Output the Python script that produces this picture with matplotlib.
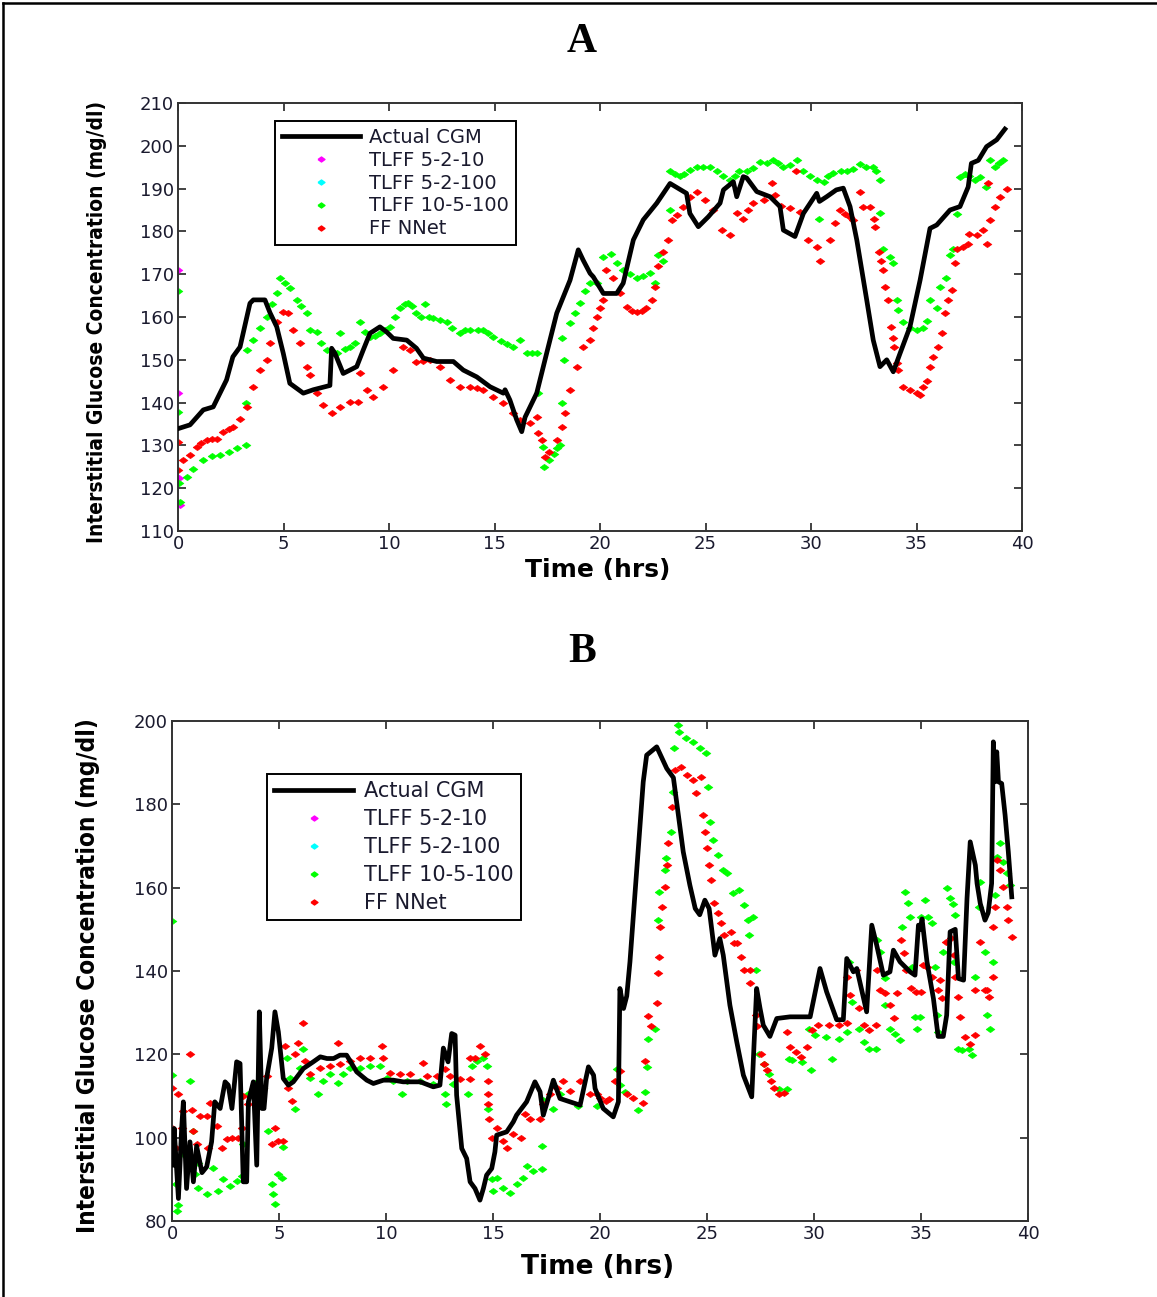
import matplotlib
matplotlib.use("Agg")
import matplotlib.pyplot as plt
from matplotlib.lines import Line2D
from matplotlib import font_manager

# ---------------- Panel A data ----------------
a_cgm_t = [0.06, 0.57, 1.2, 1.67, 1.83, 2.3, 2.6, 2.94, 3.41, 3.57, 4.12, 4.36, 4.68, 4.99, 5.3, 5.94,
           6.41, 7.2, 7.28, 7.44, 7.83, 8.47, 8.78, 9.1, 9.57, 9.89, 10.2, 10.84, 11.3, 11.63, 12.26,
           13.05, 13.52, 14.16, 14.79, 15.42, 15.5, 15.73, 16.05, 16.29, 16.45, 17.0, 17.47, 17.95,
           18.58, 18.97, 19.2, 19.53, 19.68, 20.16, 20.79, 21.1, 21.58, 22.05, 22.69, 23.32, 24.1,
           24.26, 24.66, 25.13, 25.69, 25.85, 26.32, 26.48, 26.79, 26.95, 27.43, 28.06, 28.53, 28.69,
           29.24, 29.64, 30.27, 30.4, 30.74, 31.2, 31.53, 31.85, 32.17, 32.64, 32.95, 33.27, 33.59,
           33.9, 34.22, 34.69, 35.17, 35.64, 35.96, 36.59, 37.06, 37.45, 37.6, 37.93, 38.32, 38.8, 39.19]
a_cgm_v = [134.0, 134.8, 138.3, 139.0, 140.6, 145.3, 150.7, 153.0, 163.2, 164.0, 164.0, 161.0, 157.7,
           151.5, 144.5, 142.2, 143.0, 144.0, 152.7, 151.5, 146.8, 148.4, 152.3, 156.2, 157.7, 156.5,
           155.0, 154.6, 152.7, 150.4, 149.6, 149.6, 147.6, 146.0, 143.7, 142.2, 143.0, 140.6, 136.0,
           133.2, 136.6, 142.2, 151.5, 160.9, 168.6, 175.7, 173.3, 170.2, 169.4, 165.5, 165.5, 167.9,
           178.0, 182.7, 186.6, 191.2, 188.9, 184.2, 181.1, 183.4, 186.6, 189.7, 191.6, 188.1, 192.8,
           192.5, 189.3, 188.1, 185.8, 180.3, 178.8, 184.2, 188.9, 187.0, 188.1, 189.7, 190.1, 185.8,
           178.0, 164.0, 154.6, 148.4, 150.0, 147.2, 151.5, 157.7, 168.6, 180.7, 181.5, 185.0, 185.8,
           190.4, 195.9, 196.6, 199.8, 201.4, 203.9]

a_tl10_t = [0.0, 0.0, 0.05, 0.1]
a_tl10_v = [171.0, 142.2, 122.3, 116.0]

a_tl100_t = []
a_tl100_v = []

a_tl105_t = [0.0, 0.0, 0.05, 0.1, 0.41, 0.7, 1.2, 1.6, 1.99, 2.4, 2.78, 3.2, 3.2, 3.25, 3.57, 3.9, 4.2,
             4.45, 4.68, 4.83, 5.05, 5.31, 5.62, 5.85, 6.1, 6.26, 6.57, 6.8, 7.05, 7.3, 7.52, 7.67, 7.9,
             8.15, 8.4, 8.63, 8.85, 9.1, 9.35, 9.57, 9.8, 10.05, 10.3, 10.52, 10.75, 10.91, 11.1, 11.3,
             11.5, 11.7, 11.9, 12.1, 12.4, 12.73, 13.0, 13.36, 13.6, 13.84, 14.2, 14.47, 14.7, 14.94,
             15.3, 15.58, 15.9, 16.2, 16.52, 16.8, 17.0, 17.05, 17.3, 17.35, 17.6, 17.8, 17.95, 18.1,
             18.2, 18.2, 18.3, 18.6, 18.8, 19.05, 19.3, 19.53, 19.84, 20.16, 20.5, 20.8, 21.1, 21.4,
             21.74, 22.05, 22.37, 22.6, 22.76, 23.0, 23.3, 23.32, 23.55, 23.8, 24.0, 24.26, 24.6, 24.9,
             25.2, 25.53, 25.85, 26.16, 26.4, 26.6, 26.95, 27.27, 27.58, 27.9, 28.21, 28.45, 28.69,
             29.0, 29.32, 29.64, 29.95, 30.27, 30.4, 30.6, 30.8, 31.06, 31.4, 31.69, 32.0, 32.32, 32.6,
             32.95, 33.1, 33.27, 33.27, 33.4, 33.74, 33.9, 34.06, 34.1, 34.38, 34.7, 35.0, 35.32, 35.5,
             35.64, 35.96, 36.11, 36.4, 36.59, 36.75, 36.9, 37.06, 37.3, 37.5, 37.75, 38.0, 38.3,
             38.48, 38.7, 38.9, 39.1]
a_tl105_v = [166.1, 137.9, 121.1, 116.8, 122.7, 124.5, 126.6, 127.5, 127.8, 128.5, 129.3, 130.1, 140.0,
             152.3, 154.6, 157.5, 160.0, 163.0, 165.5, 169.0, 168.0, 166.7, 164.0, 162.5, 160.9, 157.0,
             156.5, 154.0, 152.3, 152.0, 151.5, 156.2, 152.5, 153.0, 154.0, 158.9, 156.5, 155.4, 155.5,
             156.2, 157.0, 157.7, 160.0, 162.0, 163.0, 163.3, 162.5, 160.9, 160.0, 163.0, 160.0, 159.7,
             159.3, 158.9, 157.5, 156.2, 157.0, 157.0, 157.0, 157.0, 156.3, 155.4, 154.5, 153.8, 153.0,
             154.6, 151.5, 151.7, 151.5, 142.2, 129.7, 125.0, 126.6, 128.0, 129.4, 130.0, 140.0, 155.0,
             150.0, 158.5, 161.0, 163.2, 166.0, 167.9, 168.0, 174.0, 174.8, 172.5, 171.0, 170.0, 169.0,
             169.5, 170.2, 168.0, 174.5, 173.0, 185.0, 194.0, 193.5, 193.0, 193.5, 194.3, 195.0, 195.0,
             195.0, 194.2, 193.0, 192.0, 193.0, 194.0, 194.0, 194.7, 196.3, 196.0, 196.7, 196.0, 195.0,
             195.5, 196.7, 194.2, 193.0, 192.0, 183.0, 191.6, 193.0, 193.6, 194.0, 194.2, 194.5, 195.8,
             195.0, 195.0, 194.0, 192.0, 184.2, 176.0, 174.0, 172.5, 164.0, 161.6, 158.9, 157.5, 157.0,
             157.5, 159.0, 164.0, 162.0, 167.0, 169.0, 174.5, 176.0, 184.0, 192.6, 193.5, 193.0, 192.0,
             192.6, 190.4, 196.7, 195.0, 196.0, 196.7]

a_ff_t = [0.0, 0.0, 0.25, 0.57, 0.88, 1.1, 1.36, 1.6, 1.83, 2.15, 2.4, 2.62, 2.94, 3.25, 3.57, 3.89, 4.2,
          4.36, 4.68, 4.99, 5.2, 5.47, 5.78, 6.1, 6.26, 6.57, 6.89, 7.28, 7.68, 8.15, 8.55, 8.63, 8.94,
          9.26, 9.73, 10.2, 10.68, 11.0, 11.3, 11.6, 11.94, 12.42, 12.89, 13.36, 13.84, 14.15, 14.47,
          14.94, 15.42, 15.89, 16.2, 16.68, 17.0, 17.05, 17.23, 17.4, 17.6, 17.95, 18.2, 18.34, 18.58,
          18.9, 19.2, 19.53, 19.68, 19.84, 20.0, 20.16, 20.3, 20.6, 20.95, 21.26, 21.5, 21.74, 22.0,
          22.2, 22.45, 22.6, 22.76, 23.0, 23.24, 23.4, 23.63, 23.95, 24.26, 24.6, 24.98, 25.37, 25.77,
          26.16, 26.48, 26.79, 27.0, 27.27, 27.75, 28.13, 28.3, 28.6, 29.0, 29.3, 29.5, 29.87, 30.27,
          30.43, 30.9, 31.15, 31.37, 31.6, 31.85, 32.0, 32.32, 32.48, 32.8, 33.0, 33.05, 33.2, 33.3,
          33.43, 33.5, 33.67, 33.8, 33.9, 33.95, 34.06, 34.1, 34.38, 34.69, 35.0, 35.17, 35.32, 35.48,
          35.64, 35.8, 36.0, 36.2, 36.35, 36.5, 36.67, 36.82, 36.9, 37.2, 37.45, 37.5, 37.85, 38.16,
          38.32, 38.4, 38.48, 38.7, 38.96, 39.27]
a_ff_v = [130.9, 124.3, 126.6, 127.8, 129.7, 130.5, 131.3, 131.4, 131.5, 133.2, 133.8, 134.4, 136.1,
          139.0, 143.7, 147.6, 150.0, 153.9, 158.9, 161.2, 161.0, 157.0, 153.9, 148.4, 146.4, 142.2,
          139.4, 137.5, 139.0, 140.2, 140.2, 146.8, 142.9, 141.3, 143.7, 147.6, 153.0, 152.3, 149.6,
          149.8, 150.0, 148.4, 145.3, 143.7, 143.7, 143.3, 143.0, 141.4, 139.8, 137.5, 136.0, 135.3,
          136.6, 133.0, 131.3, 127.4, 128.5, 131.3, 134.4, 137.5, 142.9, 148.4, 153.0, 154.6, 157.5,
          160.0, 162.0, 164.0, 171.0, 169.0, 165.5, 162.4, 161.5, 161.2, 161.5, 162.0, 164.0, 167.0,
          171.8, 175.3, 178.0, 182.7, 183.8, 185.8, 188.1, 189.3, 187.3, 185.0, 180.3, 179.2, 184.2,
          183.0, 185.0, 186.6, 187.3, 191.2, 188.5, 186.0, 185.4, 194.2, 184.6, 178.0, 176.4, 173.0,
          178.0, 182.0, 185.0, 184.0, 183.4, 182.7, 189.3, 185.8, 185.8, 183.0, 181.1, 175.3, 173.0,
          171.0, 167.0, 164.0, 157.7, 155.0, 153.0, 149.2, 147.6, 143.7, 143.0, 142.3, 141.8, 143.7,
          145.0, 148.4, 150.6, 153.0, 156.2, 160.9, 164.0, 166.3, 172.5, 176.0, 176.3, 177.0, 179.5,
          179.2, 180.3, 177.0, 191.2, 182.7, 185.8, 188.1, 190.0]

# ---------------- Panel B data ----------------
b_cgm_t = [0.06, 0.1, 0.3, 0.45, 0.53, 0.68, 0.84, 1.0, 1.15, 1.4, 1.62, 1.85, 2.0, 2.25, 2.48, 2.63,
           2.8, 3.02, 3.18, 3.33, 3.49, 3.57, 3.8, 3.96, 4.08, 4.2, 4.3, 4.42, 4.66, 4.81, 4.97, 5.2,
           5.44, 5.67, 6.14, 6.6, 6.93, 7.24, 7.55, 7.85, 8.16, 8.63, 9.1, 9.41, 9.88, 10.34, 10.8,
           11.6, 12.21, 12.52, 12.68, 12.9, 13.07, 13.23, 13.3, 13.54, 13.77, 13.93, 14.16, 14.39,
           14.55, 14.7, 14.94, 15.09, 15.17, 15.64, 15.95, 16.1, 16.57, 16.96, 17.2, 17.35, 17.58,
           17.82, 18.13, 18.6, 19.07, 19.46, 19.7, 19.77, 20.15, 20.62, 20.86, 20.93, 21.1, 21.25,
           21.4, 21.56, 21.79, 22.02, 22.18, 22.65, 23.12, 23.43, 23.66, 23.89, 24.2, 24.45, 24.66,
           24.9, 25.1, 25.37, 25.6, 25.76, 26.07, 26.39, 26.7, 27.09, 27.2, 27.32, 27.48, 27.63, 27.94,
           28.26, 28.88, 29.82, 30.28, 30.59, 31.06, 31.37, 31.53, 31.84, 32.0, 32.46, 32.7, 32.93,
           33.24, 33.55, 33.71, 34.02, 34.49, 34.72, 34.88, 34.96, 35.05, 35.28, 35.58, 35.8, 36.04,
           36.2, 36.36, 36.6, 36.75, 36.99, 37.15, 37.3, 37.54, 37.62, 37.77, 37.99, 38.14, 38.3,
           38.38, 38.46, 38.54, 38.62, 38.77, 38.93, 39.08, 39.24]
b_cgm_v = [93.4, 102.2, 85.4, 102.2, 108.6, 87.8, 99.0, 89.4, 98.0, 91.6, 93.0, 99.0, 108.6, 107.0,
           113.4, 112.6, 107.0, 118.2, 117.8, 89.4, 89.4, 108.6, 113.4, 93.4, 130.2, 107.0, 107.0,
           114.2, 121.5, 130.2, 125.4, 114.2, 112.6, 113.4, 116.6, 118.2, 119.4, 119.0, 119.0, 119.8,
           119.8, 115.8, 113.8, 113.0, 113.8, 113.8, 113.4, 113.4, 112.2, 112.6, 121.5, 118.2, 125.0,
           124.6, 110.2, 97.4, 95.0, 89.4, 87.8, 85.0, 87.8, 91.0, 92.6, 96.6, 100.6, 101.4, 103.8,
           105.4, 108.6, 113.4, 111.0, 105.4, 109.4, 113.8, 109.4, 108.6, 107.8, 117.0, 115.0, 111.8,
           107.0, 105.0, 108.6, 135.8, 131.0, 134.0, 142.2, 153.4, 169.4, 185.4, 191.8, 193.8, 188.6,
           186.4, 177.4, 168.6, 160.6, 155.0, 153.5, 157.0, 155.0, 143.8, 147.8, 143.8, 131.8, 123.0,
           115.0, 109.8, 122.6, 135.8, 131.0, 127.0, 124.3, 128.6, 129.0, 129.0, 140.6, 135.0, 128.3,
           128.3, 143.0, 139.8, 140.6, 130.2, 151.0, 146.2, 139.0, 139.8, 145.0, 142.2, 139.8, 139.0,
           151.0, 150.0, 152.5, 142.2, 133.4, 124.3, 124.3, 129.4, 149.4, 150.0, 138.2, 137.8, 157.4,
           171.0, 165.4, 161.0, 156.2, 152.2, 154.0, 161.0, 195.0, 185.4, 192.6, 185.4, 185.0, 177.4,
           168.6, 157.8]

b_tl105_t = [0.0, 0.02, 0.2, 0.28, 0.25, 0.53, 0.84, 1.0, 1.07, 1.23, 1.23, 1.62, 1.93, 2.17, 2.4, 2.7,
             3.02, 3.25, 3.33, 3.57, 3.8, 4.03, 4.27, 4.5, 4.66, 4.73, 4.81, 4.97, 5.12, 5.2, 5.36, 5.52,
             5.75, 5.98, 6.14, 6.45, 6.84, 7.07, 7.38, 7.77, 8.0, 8.32, 8.78, 9.25, 9.72, 10.03, 10.34,
             10.73, 10.97, 11.59, 12.21, 12.76, 12.8, 13.15, 13.85, 14.0, 14.24, 14.55, 14.7, 14.78,
             14.94, 15.0, 15.17, 15.48, 15.8, 16.1, 16.41, 16.57, 16.88, 17.27, 17.27, 17.35, 17.82,
             18.13, 18.97, 19.84, 20.78, 20.93, 21.17, 21.79, 22.1, 22.2, 22.26, 22.57, 22.73, 22.75,
             23.03, 23.1, 23.32, 23.4, 23.45, 23.63, 23.7, 24.0, 24.33, 24.65, 24.96, 25.04, 25.12,
             25.27, 25.5, 25.74, 25.95, 26.21, 26.5, 26.74, 26.9, 27.13, 26.95, 27.28, 27.43, 27.67,
             27.9, 28.36, 28.75, 28.83, 28.99, 29.45, 29.84, 29.76, 30.07, 30.54, 30.85, 31.16, 31.55,
             31.62, 31.78, 32.1, 32.33, 32.57, 32.9, 32.96, 33.1, 33.3, 33.3, 33.55, 33.78, 34.02, 34.1,
             34.25, 34.4, 34.49, 34.57, 34.72, 34.8, 34.95, 35.0, 35.18, 35.33, 35.5, 35.67, 35.73,
             35.8, 36.04, 36.2, 36.36, 36.5, 36.6, 36.52, 36.75, 36.91, 37.23, 37.38, 37.54, 37.7,
             37.77, 38.0, 38.07, 38.23, 38.38, 38.46, 38.54, 38.7, 38.85, 39.0, 39.16]
b_tl105_v = [152.0, 115.0, 89.0, 83.8, 82.3, 96.2, 113.6, 101.6, 91.2, 94.0, 88.0, 86.4, 92.8, 87.2,
             90.0, 88.4, 89.6, 90.8, 98.4, 110.4, 110.4, 113.6, 112.0, 101.6, 88.8, 86.4, 84.0, 91.2,
             90.4, 97.8, 119.2, 114.4, 106.8, 116.8, 121.2, 114.4, 110.4, 113.6, 115.2, 113.2, 115.2,
             116.8, 116.8, 117.2, 117.2, 114.4, 113.6, 110.4, 113.6, 113.6, 112.8, 110.4, 108.0, 112.8,
             110.4, 117.2, 118.4, 119.2, 117.2, 106.8, 90.0, 87.2, 90.4, 88.0, 86.8, 88.8, 90.4, 93.2,
             92.0, 92.4, 98.0, 109.0, 106.8, 110.4, 107.6, 107.6, 116.6, 112.6, 111.0, 106.6, 111.0,
             117.0, 123.8, 126.2, 152.2, 159.0, 164.2, 167.0, 173.4, 183.0, 193.4, 199.0, 197.4, 195.8,
             195.0, 193.4, 192.2, 184.2, 175.8, 171.4, 167.8, 164.2, 163.4, 158.6, 159.4, 155.8, 152.2,
             153.0, 148.6, 140.2, 120.2, 117.8, 115.4, 111.8, 111.8, 119.0, 118.6, 118.2, 116.2, 126.2,
             124.6, 124.2, 119.0, 123.8, 125.4, 142.2, 132.5, 126.2, 123.0, 121.4, 121.4, 147.4, 144.6,
             138.2, 131.8, 126.2, 125.0, 123.4, 150.6, 159.0, 156.2, 153.0, 141.0, 129.0, 126.2, 129.0,
             153.0, 157.0, 153.0, 151.4, 141.0, 129.4, 125.4, 144.6, 159.8, 157.4, 156.0, 153.4, 142.2,
             121.4, 121.0, 121.4, 119.8, 138.6, 155.4, 161.4, 144.6, 129.4, 126.2, 142.2, 158.2, 167.4,
             170.6, 166.2, 163.4, 160.6]

b_ff_t = [0.0, 0.02, 0.2, 0.28, 0.45, 0.53, 0.84, 0.95, 1.0, 1.15, 1.3, 1.62, 1.7, 1.78, 2.1, 2.33, 2.56,
          2.8, 3.1, 3.25, 3.33, 3.57, 3.8, 4.1, 4.27, 4.42, 4.66, 4.81, 4.97, 5.2, 5.28, 5.44, 5.6, 5.75,
          5.9, 6.14, 6.2, 6.45, 6.92, 7.38, 7.77, 7.85, 8.32, 8.78, 9.25, 9.8, 9.88, 10.19, 10.66, 11.1,
          11.75, 11.9, 12.38, 12.76, 13.0, 13.46, 13.93, 13.93, 14.16, 14.39, 14.63, 14.78, 14.78,
          14.78, 14.8, 14.94, 15.17, 15.48, 15.64, 15.95, 16.33, 16.49, 16.72, 17.2, 17.35, 17.66,
          17.97, 18.29, 18.6, 19.07, 19.53, 19.84, 20.0, 20.3, 20.4, 20.7, 20.93, 21.25, 21.56, 22.02,
          22.1, 22.26, 22.4, 22.65, 22.73, 22.75, 22.8, 22.9, 23.05, 23.12, 23.2, 23.35, 23.5, 23.8,
          24.05, 24.36, 24.5, 24.7, 24.8, 24.9, 25.0, 25.1, 25.2, 25.35, 25.5, 25.65, 25.8, 26.1, 26.28,
          26.4, 26.6, 26.75, 27.0, 27.0, 27.28, 27.35, 27.5, 27.67, 27.82, 27.98, 28.13, 28.36, 28.6,
          28.75, 28.9, 29.14, 29.37, 29.68, 29.9, 30.2, 30.7, 31.16, 31.55, 31.55, 31.7, 31.94, 32.1,
          32.33, 32.57, 32.88, 32.96, 33.1, 33.34, 33.57, 33.73, 33.9, 34.05, 34.2, 34.3, 34.52, 34.77,
          35.0, 35.1, 35.3, 35.53, 35.8, 35.9, 36.0, 36.15, 36.4, 36.52, 36.6, 36.75, 36.83, 37.07,
          37.3, 37.54, 37.54, 37.77, 38.0, 38.1, 38.2, 38.38, 38.38, 38.46, 38.54, 38.7, 38.85, 39.0,
          39.08, 39.24]
b_ff_v = [112.0, 102.4, 97.6, 110.4, 102.4, 106.4, 120.0, 106.6, 101.6, 98.4, 105.2, 105.2, 97.6,
          108.4, 102.8, 97.6, 99.6, 100.0, 100.0, 102.4, 110.0, 108.0, 111.6, 108.4, 112.0, 114.8, 98.4,
          102.4, 99.2, 99.2, 122.0, 112.0, 108.8, 120.0, 122.8, 127.4, 118.4, 115.2, 116.8, 117.2,
          122.8, 117.6, 118.4, 119.2, 119.2, 122.0, 119.2, 115.6, 115.2, 115.2, 118.0, 114.8, 114.8,
          116.4, 114.8, 114.0, 114.0, 119.2, 119.2, 122.0, 120.0, 113.6, 110.4, 108.0, 104.4, 100.0,
          102.4, 99.2, 97.6, 100.8, 100.0, 105.6, 104.4, 104.4, 108.0, 110.4, 112.0, 113.6, 111.2,
          113.6, 110.4, 110.4, 109.6, 108.8, 109.2, 113.6, 116.0, 110.4, 109.6, 108.4, 118.4, 129.2,
          126.8, 132.4, 139.4, 143.4, 150.6, 155.4, 160.2, 165.4, 170.6, 179.4, 188.2, 189.0, 187.0,
          185.8, 182.6, 186.6, 177.4, 173.4, 169.4, 165.4, 161.8, 156.2, 153.8, 151.4, 148.6, 149.4,
          146.6, 146.6, 143.4, 140.2, 140.2, 137.0, 129.4, 126.8, 120.2, 117.8, 116.2, 113.6, 112.0,
          110.4, 110.8, 125.4, 121.8, 120.6, 119.4, 121.8, 125.8, 127.0, 127.0, 127.0, 127.4, 138.6,
          134.2, 140.2, 131.0, 127.0, 125.8, 127.0, 140.2, 135.4, 134.6, 131.8, 128.6, 134.8, 147.4,
          144.2, 140.2, 135.8, 135.0, 135.0, 141.4, 141.0, 138.6, 135.4, 137.8, 133.4, 147.0, 147.8,
          143.8, 138.6, 133.8, 129.0, 124.2, 122.6, 124.6, 135.4, 147.0, 135.4, 135.4, 133.8, 138.6,
          150.6, 155.4, 166.6, 164.2, 160.2, 155.4, 152.2, 148.2]

labels = ["Actual CGM", "TLFF 5-2-10", "TLFF 5-2-100", "TLFF 10-5-100", "FF NNet"]
colors = ["black", "#ff00ff", "#00ffff", "#00ff00", "#ff0000"]

# wide, flat diamond like the original markers
diamond = [(-1.0, 0.0), (0.0, 0.72), (1.0, 0.0), (0.0, -0.72), (-1.0, 0.0)]

# a condensed bold face for the y labels, if one is installed
cond = font_manager.FontProperties(family="DejaVu Sans", weight="bold", stretch="condensed")
cond_path = font_manager.findfont(cond, fallback_to_default=False)
if "ondensed" in cond_path:
    ylab_font = dict(family="DejaVu Sans", fontstretch="condensed")
    ylab_sizes = (15, 17.5)
else:
    ylab_font = dict(family="Liberation Sans")
    ylab_sizes = (14.3, 16.4)

fig = plt.figure(figsize=(11.57, 12.97), dpi=100)

# outer frame (left and top edges visible)
fig.add_artist(Line2D([3 / 1157, 3 / 1157], [0, 1 - 3 / 1297], transform=fig.transFigure,
                      color="black", lw=1.8))
fig.add_artist(Line2D([3 / 1157, 1], [1 - 3 / 1297, 1 - 3 / 1297], transform=fig.transFigure,
                      color="black", lw=1.8))


def panel(ax, cgm_t, cgm_v, series, ylim, yticks, legend_anchor, fs_leg, handlelen, lspace):
    ax.plot(cgm_t, cgm_v, color="black", lw=3.4, zorder=3)
    for (t, v), c in zip(series, colors[1:]):
        if t:
            ax.plot(t, v, linestyle="none", marker=diamond, ms=6.4, mec=c, mfc=c, mew=0.4, zorder=2)
    ax.set_xlim(0, 40)
    ax.set_ylim(*ylim)
    ax.set_xticks(range(0, 41, 5))
    ax.set_yticks(yticks)
    ax.tick_params(direction="in", top=True, right=True, length=6, width=1.2,
                   labelsize=13, pad=3, colors="#222222")
    for lab in ax.get_xticklabels() + ax.get_yticklabels():
        lab.set_color("#1a1a2e")
    for s in ax.spines.values():
        s.set_linewidth(1.4)
        s.set_color("#333333")
    handles = [Line2D([], [], color="black", lw=3.4)]
    for c in colors[1:]:
        handles.append(Line2D([], [], linestyle="none", marker=diamond, ms=5.0, mfc=c, mec=c))
    leg = ax.legend(handles, labels, loc="upper left", bbox_to_anchor=legend_anchor,
                    borderaxespad=0, fancybox=False, framealpha=1, edgecolor="black",
                    fontsize=fs_leg, handlelength=handlelen, labelspacing=lspace,
                    handletextpad=0.5, borderpad=0.35)
    leg.get_frame().set_linewidth(1.4)
    for txt in leg.get_texts():
        txt.set_color("#1a1a2e")


ax_a = fig.add_axes([178 / 1157, 1 - 531 / 1297, 844 / 1157, 428 / 1297])
panel(ax_a, a_cgm_t, a_cgm_v,
      [(a_tl10_t, a_tl10_v), (a_tl100_t, a_tl100_v), (a_tl105_t, a_tl105_v), (a_ff_t, a_ff_v)],
      (110, 210), range(110, 211, 10), (0.115, 0.958), 14, 4.0, 0.2)

ax_b = fig.add_axes([172 / 1157, 1 - 1221 / 1297, 856 / 1157, 500 / 1297])
panel(ax_b, b_cgm_t, b_cgm_v,
      [([], []), ([], []), (b_tl105_t, b_tl105_v), (b_ff_t, b_ff_v)],
      (80, 200), range(80, 201, 20), (0.111, 0.894), 15, 3.8, 0.38)

serif = ["Liberation Serif", "DejaVu Serif"]

fig.text(582 / 1157, 1 - 42 / 1297, "A", ha="center", va="center", fontsize=30,
         fontweight="bold", family=serif)
fig.text(582 / 1157, 1 - 652 / 1297, "B", ha="center", va="center", fontsize=30,
         fontweight="bold", family=serif)

fig.text(97 / 1157, 1 - 322 / 1297, "Interstitial Glucose Concentration (mg/dl)", rotation=90,
         ha="center", va="center", fontsize=ylab_sizes[0], fontweight="bold", **ylab_font)
fig.text(88 / 1157, 1 - 976 / 1297, "Interstitial Glucose Concentration (mg/dl)", rotation=90,
         ha="center", va="center", fontsize=ylab_sizes[1], fontweight="bold", **ylab_font)

fig.text(598 / 1157, 1 - 570 / 1297, "Time (hrs)", ha="center", va="center", fontsize=18,
         fontweight="bold")
fig.text(598 / 1157, 1 - 1267 / 1297, "Time (hrs)", ha="center", va="center", fontsize=19,
         fontweight="bold")

fig.savefig("out.png", dpi=100)
